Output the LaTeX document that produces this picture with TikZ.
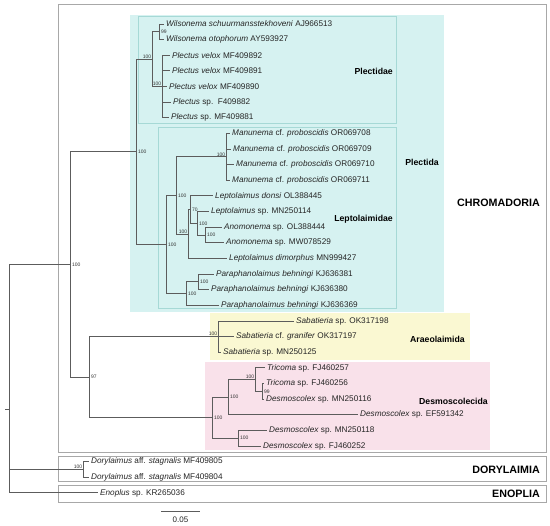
\documentclass[tikz,border=0pt]{standalone}
\usepackage{fontspec}
\setmainfont{Liberation Sans}
\usepackage{xcolor}
\definecolor{plectidafill}{HTML}{D6F2F1}
\definecolor{familyedge}{HTML}{A6D9D6}
\definecolor{araeofill}{HTML}{FAF8D2}
\definecolor{desmofill}{HTML}{F9E1EA}
\definecolor{classedge}{HTML}{A8A8A8}
\definecolor{branchgray}{HTML}{5C5C5C}
\newcommand{\taxfont}{\fontsize{8.2}{9}\selectfont}
\newcommand{\bootfont}{\fontsize{5}{5}\selectfont}
\newcommand{\grpfont}{\fontsize{8.7}{10}\selectfont\bfseries}
\newcommand{\clsfont}{\fontsize{10.7}{12}\selectfont\bfseries}

\begin{document}
\begin{tikzpicture}[
  x=1pt, y=-1pt,
  % tree styles
  branch/.style={draw=branchgray, line width=0.8pt},
  taxon/.style={anchor=west, inner sep=2pt, font=\taxfont, text=black!85},
  bootR/.style={anchor=west, inner sep=0.6pt, xshift=1.2pt, font=\bootfont, text=black!80},
  bootL/.style={anchor=south east, inner sep=0.6pt, font=\bootfont, text=black!80},
  % clade boxes and labels
  classbox/.style={draw=classedge, line width=0.7pt},
  familybox/.style={draw=familyedge, line width=0.7pt},
  grouplabel/.style={anchor=east, inner sep=0pt, font=\grpfont},
  classlabel/.style={anchor=east, inner sep=0pt, font=\clsfont},
  scalelabel/.style={inner sep=0pt, font=\fontsize{8}{9}\selectfont, text=black!85}
]
  \useasboundingbox (0,0) rectangle (550,526);
  \fill[white] (0,0) rectangle (550,526);

  % =============================================================
  % Clade boxes
  % =============================================================
  \draw[classbox] (58,4) rectangle (546,452);
  \draw[classbox] (58,456) rectangle (546,481);
  \draw[classbox] (58,485) rectangle (546,502);
  \fill[plectidafill] (130,15) rectangle (444,312);
  \draw[familybox] (138,16) rectangle (396,123);
  \draw[familybox] (158,127) rectangle (396,308);
  \fill[araeofill] (210,313) rectangle (470,360);
  \fill[desmofill] (205,362) rectangle (490,450);

  \node[grouplabel] (lPlectidae) at (393,71) {Plectidae};
  \node[grouplabel] (lLepto) at (393,219) {Leptolaimidae};
  \node[grouplabel] (lPlectida) at (439,162) {Plectida};
  \node[grouplabel] (lAraeo) at (465,339) {Araeolaimida};
  \node[grouplabel] (lDesmo) at (488,401) {Desmoscolecida};
  \node[classlabel] (lChrom) at (540,203) {CHROMADORIA};
  \node[classlabel] (lDory) at (540,470) {DORYLAIMIA};
  \node[classlabel] (lEnop) at (540,494) {ENOPLIA};

  % =============================================================
  % Internal nodes
  % =============================================================
  \coordinate (nRootStub) at (5,409);
  \coordinate (nRoot) at (9,409);
  \coordinate (nChrom) at (70,264.6);
  \coordinate (nPlectida) at (136,151.9);
  \coordinate (nPlectidae) at (152,59.2);
  \coordinate (nWil) at (159,31.8);
  \coordinate (nPlectus) at (162,86.5);
  \coordinate (nLepto) at (166,244.6);
  \coordinate (nManLep) at (176,195.5);
  \coordinate (nMan) at (226,156.9);
  \coordinate (nLepAno) at (188,234.1);
  \coordinate (nLdLsA) at (190,209.6);
  \coordinate (nLsA) at (197,223.3);
  \coordinate (nAno) at (205,235.0);
  \coordinate (nPar) at (186,293.6);
  \coordinate (nParA) at (198,281.9);
  \coordinate (nAraDes) at (89,377.2);
  \coordinate (nSab) at (218,336.6);
  \coordinate (nDes) at (212,417.7);
  \coordinate (nDesU) at (228,397.2);
  \coordinate (nTri) at (255,379.6);
  \coordinate (nTriD) at (262,391.3);
  \coordinate (nDesL) at (238,438.2);
  \coordinate (nDory) at (83,469.5);

  % =============================================================
  % Taxa
  % =============================================================
  % Plectidae
  \node[taxon] (t01) at (164,24.0) {\textit{Wilsonema schuurmansstekhoveni} AJ966513};
  \node[taxon] (t02) at (164,39.6) {\textit{Wilsonema otophorum} AY593927};
  \node[taxon] (t03) at (170,55.3) {\textit{Plectus velox} MF409892};
  \node[taxon] (t04) at (170,70.9) {\textit{Plectus velox} MF409891};
  \node[taxon] (t05) at (167,86.5) {\textit{Plectus velox} MF409890};
  \node[taxon] (t06) at (171,102.2) {\textit{Plectus} sp.\ \ F409882};
  \node[taxon] (t07) at (169,117.8) {\textit{Plectus} sp. MF409881};
  % Leptolaimidae
  \node[taxon] (t08) at (230,133.4) {\textit{Manunema} cf. \textit{proboscidis} OR069708};
  \node[taxon] (t09) at (231,149.0) {\textit{Manunema} cf. \textit{proboscidis} OR069709};
  \node[taxon] (t10) at (234,164.7) {\textit{Manunema} cf. \textit{proboscidis} OR069710};
  \node[taxon] (t11) at (230,180.3) {\textit{Manunema} cf. \textit{proboscidis} OR069711};
  \node[taxon] (t12) at (213,195.9) {\textit{Leptolaimus donsi} OL388445};
  \node[taxon] (t13) at (209,211.6) {\textit{Leptolaimus} sp. MN250114};
  \node[taxon] (t14) at (222,227.2) {\textit{Anomonema} sp. OL388444};
  \node[taxon] (t15) at (224,242.8) {\textit{Anomonema} sp. MW078529};
  \node[taxon] (t16) at (227,258.5) {\textit{Leptolaimus dimorphus} MN999427};
  \node[taxon] (t17) at (214,274.1) {\textit{Paraphanolaimus behningi} KJ636381};
  \node[taxon] (t18) at (209,289.7) {\textit{Paraphanolaimus behningi} KJ636380};
  \node[taxon] (t19) at (219,305.3) {\textit{Paraphanolaimus behningi} KJ636369};
  % Araeolaimida
  \node[taxon] (t20) at (294,321.0) {\textit{Sabatieria} sp. OK317198};
  \node[taxon] (t21) at (234,336.6) {\textit{Sabatieria} cf. \textit{granifer} OK317197};
  \node[taxon] (t22) at (221,352.2) {\textit{Sabatieria} sp. MN250125};
  % Desmoscolecida
  \node[taxon] (t23) at (265,367.9) {\textit{Tricoma} sp. FJ460257};
  \node[taxon] (t24) at (264,383.5) {\textit{Tricoma} sp. FJ460256};
  \node[taxon] (t25) at (264,399.1) {\textit{Desmoscolex} sp. MN250116};
  \node[taxon] (t26) at (358,414.8) {\textit{Desmoscolex} sp. EF591342};
  \node[taxon] (t27) at (267,430.4) {\textit{Desmoscolex} sp. MN250118};
  \node[taxon] (t28) at (261,446.0) {\textit{Desmoscolex} sp. FJ460252};
  % Dorylaimia, Enoplia
  \node[taxon] (t29) at (89,461.6) {\textit{Dorylaimus} aff. \textit{stagnalis} MF409805};
  \node[taxon] (t30) at (89,477.3) {\textit{Dorylaimus} aff. \textit{stagnalis} MF409804};
  \node[taxon] (t31) at (98,492.9) {\textit{Enoplus} sp. KR265036};

  % =============================================================
  % Branches (parent |- child)
  % =============================================================
  \draw[branch] (nRootStub) -- (nRoot);
  \foreach \p/\c in {nRoot/nChrom, nRoot/nDory, nRoot/t31.west,
      nChrom/nPlectida, nChrom/nAraDes,
      nPlectida/nPlectidae, nPlectida/nLepto,
      nPlectidae/nWil, nPlectidae/nPlectus,
      nWil/t01.west, nWil/t02.west,
      nPlectus/t03.west, nPlectus/t04.west, nPlectus/t05.west,
      nPlectus/t06.west, nPlectus/t07.west,
      nLepto/nManLep, nLepto/nPar,
      nManLep/nMan, nManLep/nLepAno,
      nMan/t08.west, nMan/t09.west, nMan/t10.west, nMan/t11.west,
      nLepAno/nLdLsA, nLepAno/t16.west,
      nLdLsA/t12.west, nLdLsA/nLsA,
      nLsA/t13.west, nLsA/nAno,
      nAno/t14.west, nAno/t15.west,
      nPar/nParA, nPar/t19.west,
      nParA/t17.west, nParA/t18.west,
      nAraDes/nSab, nAraDes/nDes,
      nSab/t20.west, nSab/t21.west, nSab/t22.west,
      nDes/nDesU, nDes/nDesL,
      nDesU/nTri, nDesU/t26.west,
      nTri/t23.west, nTri/nTriD,
      nTriD/t24.west, nTriD/t25.west,
      nDesL/t27.west, nDesL/t28.west,
      nDory/t29.west, nDory/t30.west}
    \draw[branch] (\p) |- (\c);

  % =============================================================
  % Bootstrap support
  % =============================================================
  \node[bootR] (bChrom) at (nChrom) {100};
  \node[bootR] (bAraDes) at (nAraDes) {97};
  \node[bootR] (bPlectida) at (nPlectida) {100};
  \node[bootL] (bPlectidae) at (nPlectidae) {100};
  \node[bootR] (bWil) at (nWil) {99};
  \node[bootL] (bPlectus) at (nPlectus) {100};
  \node[bootR] (bLepto) at (nLepto) {100};
  \node[bootR] (bManLep) at (nManLep) {100};
  \node[bootL] (bMan) at (nMan) {100};
  \node[bootL] (bLepAno) at (nLepAno) {100};
  \node[bootR] (bLdLsA) at (nLdLsA) {70};
  \node[bootR] (bLsA) at (nLsA) {100};
  \node[bootR] (bAno) at (nAno) {100};
  \node[bootR] (bPar) at (nPar) {100};
  \node[bootR] (bParA) at (nParA) {100};
  \node[bootL] (bSab) at (nSab) {100};
  \node[bootR] (bDes) at (nDes) {100};
  \node[bootR] (bDesU) at (nDesU) {100};
  \node[bootL] (bTri) at (nTri) {100};
  \node[bootR] (bTriD) at (nTriD) {99};
  \node[bootR] (bDesL) at (nDesL) {100};
  \node[bootL] (bDory) at (nDory) {100};

  % =============================================================
  % Scale bar
  % =============================================================
  \coordinate (sbL) at (161,511);
  \coordinate (sbR) at (200,511);
  \draw[branch] (sbL) -- (sbR);
  \node[scalelabel] (sbLabel) at (180.5,520) {0.05};
\end{tikzpicture}
\end{document}
